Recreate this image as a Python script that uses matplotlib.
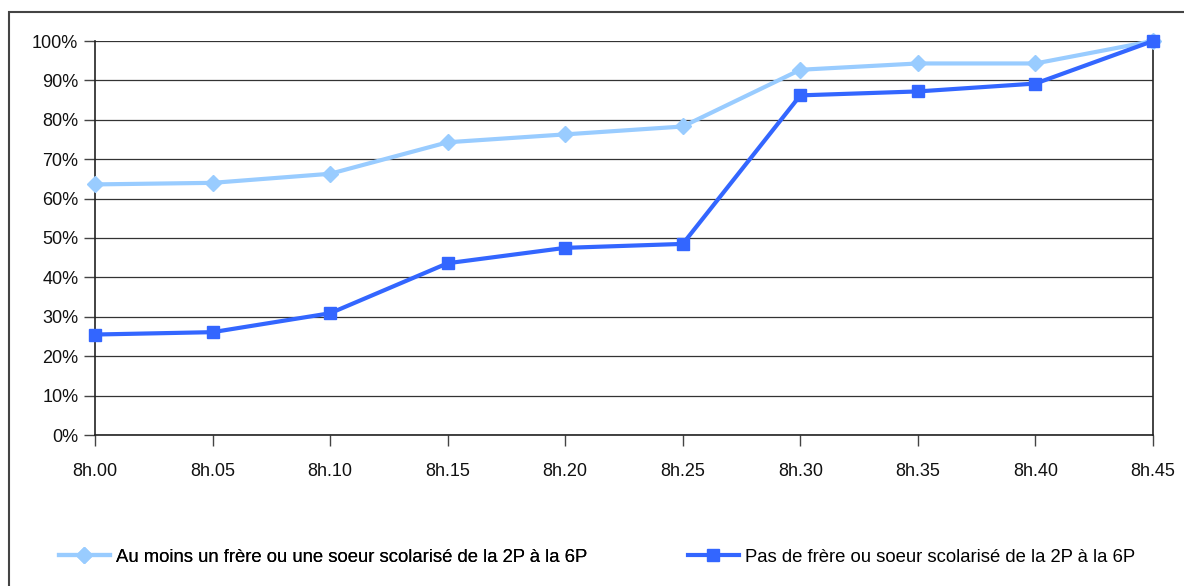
import matplotlib
matplotlib.use("Agg")
import matplotlib.pyplot as plt
from matplotlib.patches import Rectangle
from matplotlib.ticker import FuncFormatter, MultipleLocator

plt.rcParams['font.family'] = ['Liberation Sans Narrow', 'Liberation Sans', 'DejaVu Sans']

times = ["8h.00", "8h.05", "8h.10", "8h.15", "8h.20", "8h.25",
         "8h.30", "8h.35", "8h.40", "8h.45"]
with_sibling = [63.6, 64.0, 66.3, 74.3, 76.3, 78.3, 92.7, 94.3, 94.3, 100.0]
without_sibling = [25.5, 26.1, 30.9, 43.6, 47.5, 48.5, 86.2, 87.2, 89.2, 100.0]
label_with = "Au moins un frère ou une soeur scolarisé de la 2P à la 6P"
label_without = "Pas de frère ou soeur scolarisé de la 2P à la 6P"

W, H = 1184, 586
fig = plt.figure(figsize=(W / 100, H / 100), dpi=100)
ax = fig.add_axes([95 / W, 1 - 435 / H, (1153 - 95) / W, (435 - 41) / H])

x = list(range(len(times)))
l1, = ax.plot(x, with_sibling, color="#99CCFF", lw=3, marker="D",
              markersize=8, label=label_with, zorder=3, clip_on=False)
l2, = ax.plot(x, without_sibling, color="#3366FF", lw=3, marker="s",
              markersize=8.5, label=label_without, zorder=4, clip_on=False)

ax.set_xlim(0, len(times) - 1)
ax.set_ylim(0, 100)
ax.yaxis.set_major_locator(MultipleLocator(10))
ax.yaxis.set_major_formatter(FuncFormatter(lambda v, p: f"{v:.0f}%"))
ax.set_xticks(x)
ax.set_xticklabels(times)
ax.grid(axis="y", color="#333333", lw=0.9)
ax.set_axisbelow(True)
for s in ["left", "right", "bottom"]:
    ax.spines[s].set_color("#222222")
    ax.spines[s].set_linewidth(1.2)
ax.spines["top"].set_visible(False)
ax.tick_params(axis="both", direction="out", length=8, width=1,
               color="#444444", labelsize=13, labelcolor="#111111")
ax.tick_params(axis="x", pad=12)
ax.tick_params(axis="y", pad=4)

legend_kw = dict(loc="center left", frameon=False, fontsize=13.3,
                 handlelength=2.8, handletextpad=0.3)
leg1 = fig.legend(handles=[l1], bbox_to_anchor=(42 / W, 1 - 557 / H), **legend_kw)
leg2 = fig.legend(handles=[l2], bbox_to_anchor=(671 / W, 1 - 557 / H), **legend_kw)
fig.add_artist(leg1)

fig.add_artist(Rectangle((9 / W, -0.05), 1.2, 1.05 - 12 / H,
                         transform=fig.transFigure, fill=False,
                         edgecolor="#444444", lw=1.5))

fig.savefig("out.png", dpi=100)
